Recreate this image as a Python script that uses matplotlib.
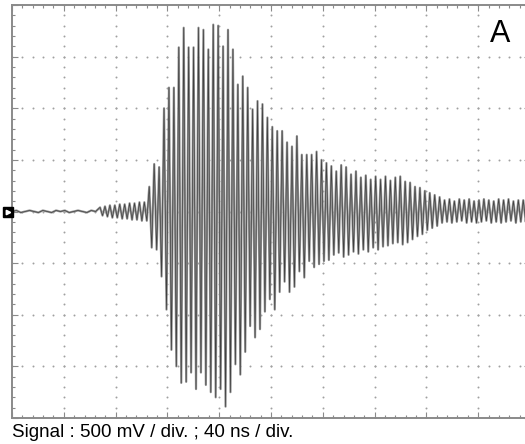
import numpy as np
import matplotlib
matplotlib.use("Agg")
import matplotlib.pyplot as plt
from matplotlib.transforms import offset_copy

# scope settings
volts_per_div = 0.5
ns_per_div = 40
n_xdiv, n_ydiv = 10, 8

# flat baseline before the burst (V), one sample per half cycle
t_pre_end = 68.0
v_pre = [0.00, 0.01, -0.01, 0.00, 0.01, 0.00, -0.01, 0.01, 0.00, -0.01,
         0.01, 0.00, 0.01, -0.01, 0.00, 0.01, 0.00, -0.01, 0.01, 0.00]

# burst: one upper and one lower peak per cycle (V)
cycle_ns = 3.8
v_hi = [0.04, 0.05, 0.06, 0.06, 0.07, 0.07, 0.08, 0.08, 0.09, 0.09,
        0.24, 0.46, 0.43, 1.00, 1.20, 1.20, 1.59, 1.78, 1.59, 1.59,
        1.78, 1.76, 1.57, 1.81, 1.80, 1.60, 1.76, 1.57, 1.23, 1.31,
        1.20, 0.99, 1.07, 1.04, 0.91, 0.82, 0.78, 0.78, 0.67, 0.63,
        0.73, 0.55, 0.55, 0.55, 0.58, 0.50, 0.47, 0.44, 0.39, 0.45,
        0.43, 0.36, 0.39, 0.33, 0.35, 0.31, 0.34, 0.31, 0.34, 0.30,
        0.33, 0.34, 0.29, 0.28, 0.24, 0.23, 0.20, 0.18, 0.16, 0.14,
        0.11, 0.12, 0.10, 0.12, 0.11, 0.12, 0.10, 0.11, 0.12, 0.11,
        0.10, 0.12, 0.11, 0.12, 0.10, 0.11, 0.11, 0.10]
v_lo = [-0.04, -0.05, -0.06, -0.06, -0.07, -0.07, -0.08, -0.08, -0.09, -0.09,
        -0.35, -0.37, -0.63, -0.95, -1.34, -1.50, -1.66, -1.65, -1.56, -1.72,
        -1.56, -1.68, -1.75, -1.80, -1.72, -1.89, -1.75, -1.48, -1.58, -1.36,
        -1.11, -1.22, -1.14, -0.97, -0.85, -0.95, -0.78, -0.68, -0.78, -0.73,
        -0.58, -0.64, -0.48, -0.54, -0.51, -0.48, -0.47, -0.42, -0.40, -0.44,
        -0.42, -0.39, -0.41, -0.37, -0.39, -0.35, -0.37, -0.34, -0.33, -0.31,
        -0.30, -0.32, -0.30, -0.27, -0.24, -0.22, -0.18, -0.16, -0.14, -0.11,
        -0.10, -0.11, -0.10, -0.09, -0.11, -0.10, -0.11, -0.10, -0.09, -0.11,
        -0.10, -0.11, -0.10, -0.09, -0.11, -0.10, -0.10, -0.11]

label = "A"
caption = "Signal : 500 mV / div. ; 40 ns / div."

# build the time base
t_pre = np.linspace(0, t_pre_end, len(v_pre), endpoint=False)
k = np.arange(len(v_hi))
t_hi = t_pre_end + k * cycle_ns
t_lo = t_hi + cycle_ns / 2
t = np.concatenate([t_pre, np.column_stack([t_hi, t_lo]).ravel()])
v = np.concatenate([v_pre, np.column_stack([v_hi, v_lo]).ravel()])

plt.rcParams['font.family'] = ['Liberation Sans', 'DejaVu Sans']

fig = plt.figure(figsize=(5.25, 4.44), dpi=100)
ax = fig.add_axes([12/525, 1 - 418/444, 518/525, 413/444])

xmax = n_xdiv * ns_per_div
ymax = n_ydiv / 2 * volts_per_div
ax.set_xlim(0, xmax)
ax.set_ylim(-ymax, ymax)

# dotted graticule
xmaj = np.arange(0, xmax + 1, ns_per_div)
ymaj = np.arange(-ymax, ymax + 0.01, volts_per_div)
xmin_ = np.arange(0, xmax + 1, ns_per_div / 5)
ymin_ = np.arange(-ymax, ymax + 0.01, volts_per_div / 5)
for xv in xmaj[1:-1]:
    ax.scatter(np.full(len(ymin_), xv), ymin_, s=2, color='#a0a0a0', lw=0, zorder=1)
for yv in ymaj[1:-1]:
    ax.scatter(xmin_, np.full(len(xmin_), yv), s=2, color='#a0a0a0', lw=0, zorder=1)

# trace: gray body with a darker core, like the scope print
ax.plot(t, v, color='#959595', lw=1.6, zorder=3)
ax.plot(t, v, color='#404040', lw=0.5, zorder=4)

ax.set_xticks(xmaj)
ax.set_yticks(ymaj)
ax.set_xticks(xmin_, minor=True)
ax.set_yticks(ymin_, minor=True)
ax.tick_params(which='both', direction='in', top=True, right=True,
               labelbottom=False, labelleft=False, color='#8a8a8a', width=0.8)
ax.tick_params(which='major', length=4)
ax.tick_params(which='minor', length=2.5)
for s in ax.spines.values():
    s.set_color('#8a8a8a')
    s.set_linewidth(1.4)

# ground-level marker
tr = offset_copy(ax.transData, fig=fig, x=-4, y=0, units='dots')
ax.plot([0], [0], marker='s', ms=7, color='black', transform=tr, clip_on=False, zorder=5)
ax.plot([0], [0], marker='>', ms=3.2, color='white', transform=tr, clip_on=False, zorder=6)

fig.text(500/525, 1 - 34/444, label, fontsize=22, ha='center', va='center')
fig.text(12/525, 1 - 432/444, caption, fontsize=13.5, ha='left', va='center')

fig.savefig('out.png', dpi=100)
